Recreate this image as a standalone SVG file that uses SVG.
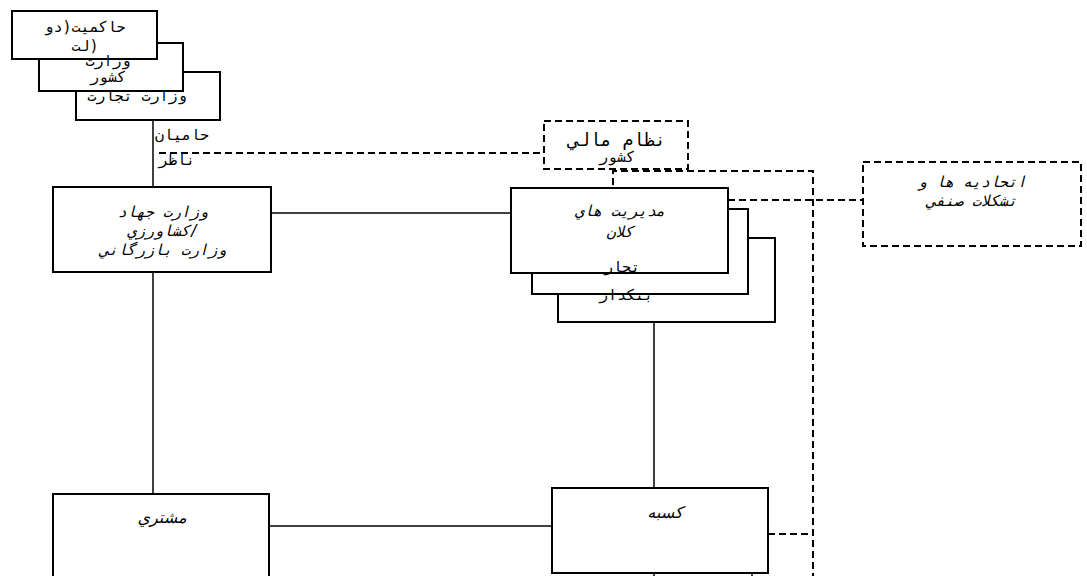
<svg xmlns="http://www.w3.org/2000/svg" width="1087" height="576" viewBox="0 0 1087 576">
<style>
.box{fill:#fff;stroke:#000;stroke-width:2}
.dbox{fill:#fff;stroke:#000;stroke-width:2;stroke-dasharray:7 4}
.ln{fill:none;stroke:#000;stroke-width:1.5}
.dl{fill:none;stroke:#000;stroke-width:2;stroke-dasharray:7 4}
.t{font-family:"DejaVu Sans Mono","DejaVu Sans",sans-serif;font-size:15px;fill:#000;text-anchor:middle}
.ti{font-family:"DejaVu Sans Mono","DejaVu Sans",sans-serif;font-size:15px;font-style:italic;fill:#000;text-anchor:middle}
.tc{font-family:"DejaVu Sans","Noto Sans",sans-serif;font-size:16px;font-style:italic;fill:#000;text-anchor:middle}
</style>
<rect width="1087" height="576" fill="#fff"/>
<g id="connectors">
<path class="ln" d="M153,120 V187"/>
<path class="ln" d="M153,272 V494"/>
<path class="ln" d="M271,213 H511"/>
<path class="ln" d="M269,526 H552"/>
<path class="ln" d="M654,322 V488"/>
<path class="ln" d="M654,573 V576 M752,573 V576"/>
<path class="dl" d="M159,153 H544"/>
<path class="dl" d="M613,207 V171 H813 V576"/>
<path class="dl" d="M728,200 H863"/>
<path class="dl" d="M768,534 H813"/>
</g>
<g id="node-vezarat-c"><rect class="box" x="76" y="72" width="144" height="48"/></g>
<g id="node-vezarat-keshvar"><rect class="box" x="39" y="43" width="144" height="48"/></g>
<g id="node-hakemiat"><rect class="box" x="12" y="11" width="145" height="48"/></g>
<g id="node-nezam-mali"><rect class="dbox" x="544" y="121" width="144" height="48"/></g>
<g id="node-jahad"><rect class="box" x="53" y="187" width="218" height="85"/></g>
<g id="node-bankdar"><rect class="box" x="558" y="238" width="217" height="84"/></g>
<g id="node-tojjar"><rect class="box" x="532" y="209" width="216" height="85"/></g>
<g id="node-modiriat"><rect class="box" x="511" y="188" width="217" height="85"/></g>
<g id="node-etehadie"><rect class="dbox" x="863" y="162" width="218" height="84"/></g>
<g id="node-moshtari"><rect class="box" x="53" y="494" width="216" height="100"/></g>
<g id="node-kasbe"><rect class="box" x="552" y="488" width="216" height="85"/></g>
<g id="labels">
<text class="t" x="85" y="32">حاكميت(دو</text>
<text class="t" x="85" y="51">لت)</text>
<text class="t" x="108" y="66">وزارت</text>
<text class="t" x="108" y="82">كشور</text>
<text class="t" x="137" y="101">وزارت تجارت</text>
<text class="t" x="182" y="140">حاميان</text>
<text class="t" x="177" y="165">ناظر</text>
<text class="t" x="617" y="146" style="font-size:18px">نظام مالي</text>
<text class="t" x="617" y="162">كشور</text>
<text class="ti" x="163" y="217">وزارت جهاد</text>
<text class="ti" x="163" y="236">كشاورزي/</text>
<text class="ti" x="163" y="255">وزارت بازرگاني</text>
<text class="ti" x="620" y="216">مديريت هاي</text>
<text class="ti" x="620" y="237">كلان</text>
<text class="t" x="622" y="272">تجار</text>
<text class="t" x="626" y="300">بنكدار</text>
<text class="ti" x="972" y="187">اتحاديه ها و</text>
<text class="ti" x="972" y="206">تشكلات صنفي</text>
<text class="tc" x="162" y="523">مشتري</text>
<text class="tc" x="665" y="518">كسبه</text>
</g>
</svg>
